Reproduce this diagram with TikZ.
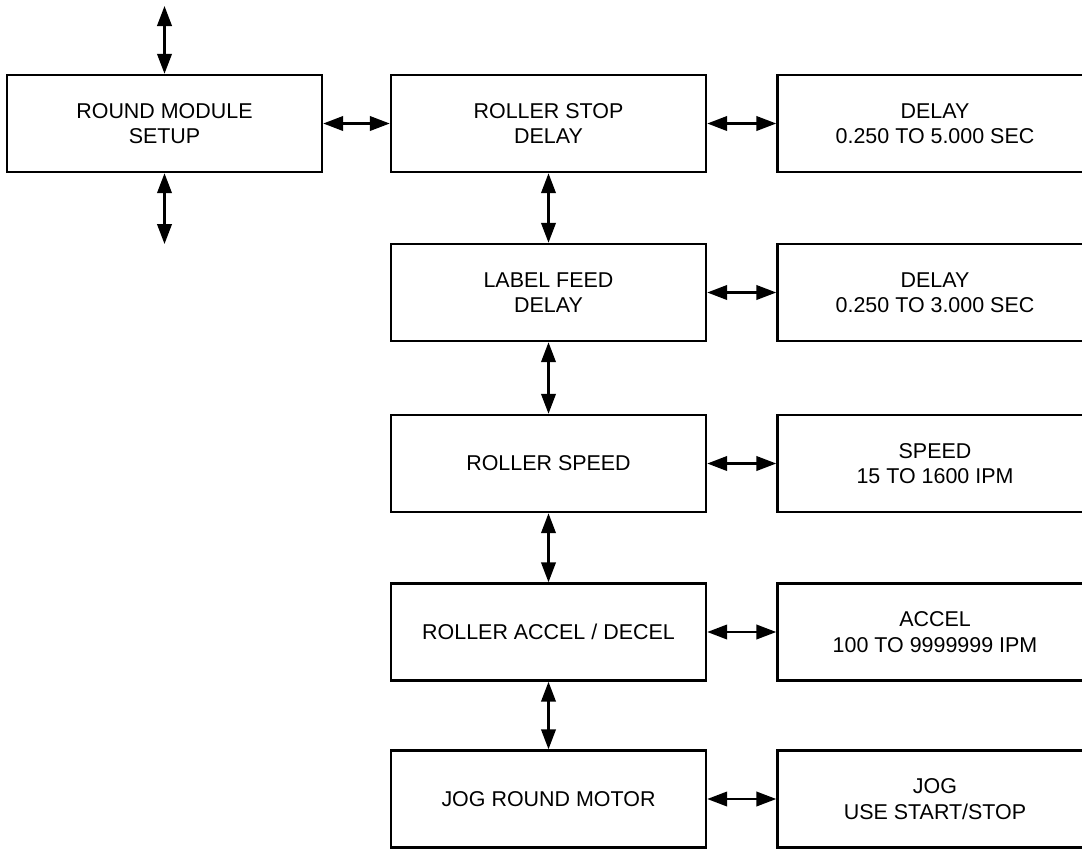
\documentclass[tikz,border=0pt]{standalone}
\usepackage{fontspec}
\setmainfont{Liberation Sans}
\usetikzlibrary{arrows,arrows.meta,positioning}

\begin{document}
\begin{tikzpicture}[line width=1.4pt,>={Triangle[length=0.4cm,width=0.29cm]}]%
            \useasboundingbox (0,0) rectangle (21.64,-16.96); %%
            \begin{scope}[shape=rectangle,align=center,font=\fontsize{12.2}{14.5}\selectfont]%
            \tikzstyle{every node}=[draw,minimum width=6.3cm,minimum height=1.94cm] %%
            \node (setup) at (3.29,-2.47)  {ROUND MODULE\\SETUP}; %%
            \node (stop) at (10.97,-2.47)  {ROLLER STOP\\DELAY}; %%
            \node (feed) at (10.97,-5.85)  {LABEL FEED\\DELAY}; %%
            \node (speed) at (10.97,-9.27)  {ROLLER SPEED}; %%
            \node (accel) at (10.97,-12.64)  {ROLLER ACCEL / DECEL}; %%
            \node (jog) at (10.97,-15.98)  {JOG ROUND MOTOR}; %%
            \node (stopv) at (18.70,-2.47)  {DELAY\\0.250 TO 5.000 SEC}; %%
            \node (feedv) at (18.70,-5.85)  {DELAY\\0.250 TO 3.000 SEC}; %%
            \node (speedv) at (18.70,-9.27)  {SPEED\\15 TO 1600 IPM}; %%
            \node (accelv) at (18.70,-12.64)  {ACCEL\\100 TO 9999999 IPM}; %%
            \node (jogv) at (18.70,-15.98)  {JOG\\USE START/STOP}; %%
            \end{scope}
            \coordinate (up) at (3.29,-0.12); %%
            \coordinate (down) at (3.29,-4.88); %%
            \draw[<->] (up)--(setup); %%
            \draw[<->] (setup)--(down); %%
            \draw[<->] (setup)--(stop); %%
            \draw[<->] (stop)--(stopv); %%
            \draw[<->] (feed)--(feedv); %%
            \draw[<->] (speed)--(speedv); %%
            \draw[<->] (accel)--(accelv); %%
            \draw[<->] (jog)--(jogv); %%
            \draw[<->] (stop)--(feed); %%
            \draw[<->] (feed)--(speed); %%
            \draw[<->] (speed)--(accel); %%
            \draw[<->] (accel)--(jog); %%
        \end{tikzpicture}
\end{document}
